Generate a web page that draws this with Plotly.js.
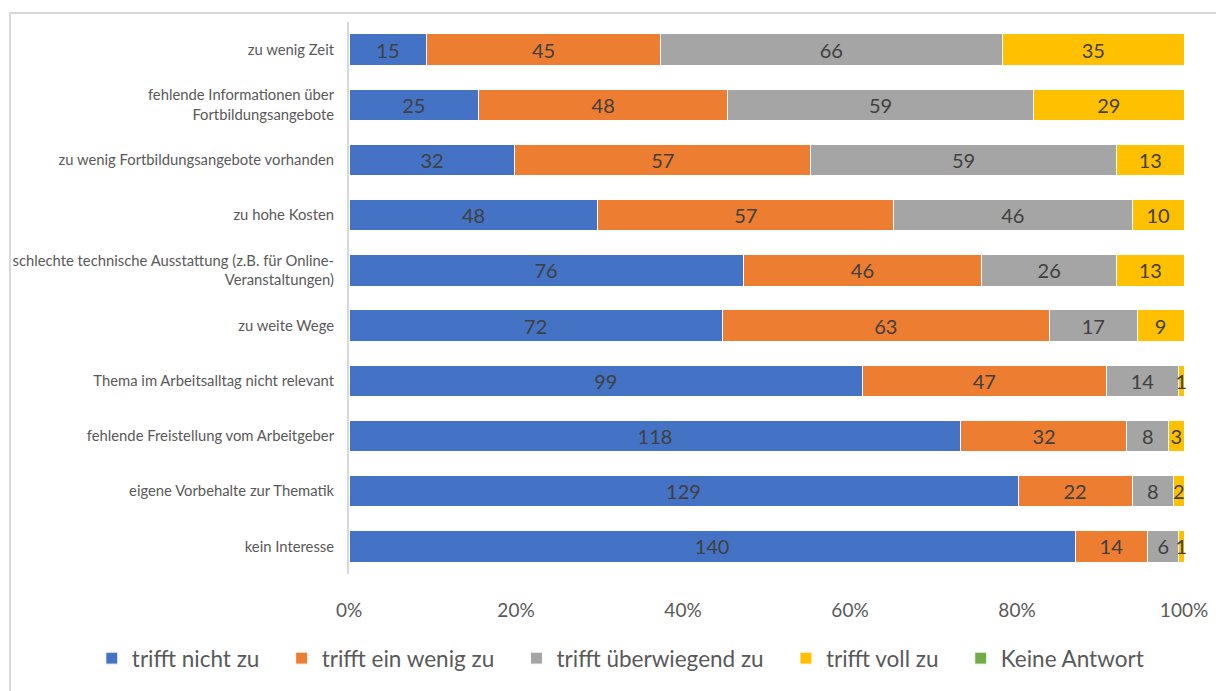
<!DOCTYPE html>
<html>
<head>
<meta charset="utf-8">
<script src="https://cdn.plot.ly/plotly-3.0.1.min.js"></script>
<style>
  html, body { margin: 0; padding: 0; background: #fff; overflow: hidden; }
  #frame { position: absolute; left: 9px; top: 12px; width: 1240px; height: 720px; border: 2px solid #d9d9d9; box-sizing: border-box; }
  #chart { position: absolute; left: 0; top: 0; width: 1216px; height: 691px; }
</style>
</head>
<body>
<div id="frame"></div>
<div id="chart"></div>
<script>
const categories = [
  "zu wenig Zeit",
  "fehlende Informationen über<br>Fortbildungsangebote",
  "zu wenig Fortbildungsangebote vorhanden",
  "zu hohe Kosten",
  "schlechte technische Ausstattung (z.B. für Online-<br>Veranstaltungen)",
  "zu weite Wege",
  "Thema im Arbeitsalltag nicht relevant",
  "fehlende Freistellung vom Arbeitgeber",
  "eigene Vorbehalte zur Thematik",
  "kein Interesse"
];
const trifftNichtZu       = [15, 25, 32, 48, 76, 72, 99, 118, 129, 140];
const trifftEinWenigZu    = [45, 48, 57, 57, 46, 63, 47, 32, 22, 14];
const trifftUeberwiegend  = [66, 59, 59, 46, 26, 17, 14, 8, 8, 6];
const trifftVollZu        = [35, 29, 13, 10, 13, 9, 1, 3, 2, 1];
const keineAntwort        = [0, 0, 0, 0, 0, 0, 0, 0, 0, 0];
const seriesNames = ["trifft nicht zu", "trifft ein wenig zu", "trifft überwiegend zu", "trifft voll zu", "Keine Antwort"];
const colors = ["#4472c4", "#ed7d31", "#a5a5a5", "#ffc000", "#70ad47"];
const xTickVals = [0, 20, 40, 60, 80, 100];
const xTickText = ["0%", "20%", "40%", "60%", "80%", "100%"];

const FONT = "Lato, 'Open Sans', sans-serif";
const seriesData = [trifftNichtZu, trifftEinWenigZu, trifftUeberwiegend, trifftVollZu, keineAntwort];
const PAD = "\u00A0\u00A0\u00A0";

const traces = seriesData.map((vals, i) => ({
  type: "bar",
  orientation: "h",
  name: seriesNames[i] + (i < seriesData.length - 1 ? PAD : ""),
  y: categories,
  x: vals,
  text: vals.map(v => v > 0 ? String(v) : ""),
  textposition: "inside",
  insidetextanchor: "middle",
  constraintext: "none",
  cliponaxis: false,
  textfont: { family: FONT, size: 20, color: "#404040" },
  marker: { color: colors[i], line: { color: "#ffffff", width: 1 } },
  hoverinfo: "name+x"
}));

const layout = {
  width: 1216,
  height: 691,
  paper_bgcolor: "rgba(0,0,0,0)",
  plot_bgcolor: "rgba(0,0,0,0)",
  barmode: "stack",
  barnorm: "percent",
  bargap: 0.43,
  margin: { l: 349, r: 32, t: 22, b: 116 },
  font: { family: FONT, color: "#595959" },
  showlegend: true,
  legend: {
    orientation: "h",
    xref: "paper", yref: "paper",
    x: -0.308, xanchor: "left",
    y: -0.151, yanchor: "middle",
    font: { family: FONT, size: 22.5, color: "#595959" },
    traceorder: "normal",
    itemclick: false
  },
  xaxis: {
    range: [0, 100],
    tickvals: xTickVals,
    ticktext: xTickText,
    tickfont: { family: FONT, size: 19, color: "#595959" },
    ticks: "outside", ticklen: 19, tickcolor: "rgba(0,0,0,0)",
    showgrid: false, zeroline: false, showline: false,
    fixedrange: true
  },
  yaxis: {
    autorange: "reversed",
    tickfont: { family: FONT, size: 14.8, color: "#595959" },
    ticks: "", ticklabelstandoff: 10,
    showgrid: false, zeroline: false,
    showline: true, linecolor: "#d9d9d9", linewidth: 2,
    fixedrange: true
  }
};

Plotly.newPlot("chart", traces, layout, { displayModeBar: false });
</script>
</body>
</html>
